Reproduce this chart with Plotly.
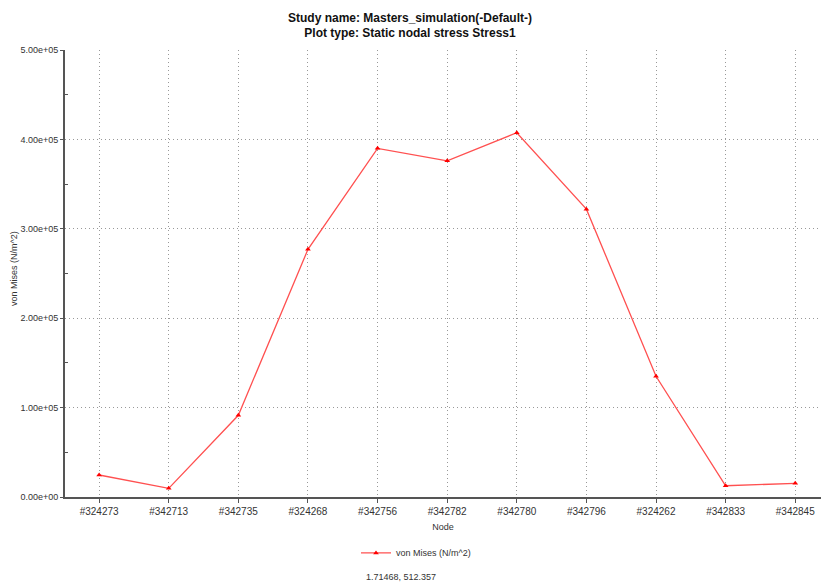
import plotly.graph_objects as go

nodes = ["#324273", "#342713", "#342735", "#324268", "#342756", "#342782",
         "#342780", "#342796", "#324262", "#342833", "#342845"]
von_mises = [24600, 9700, 91400, 277000, 390000, 376000, 407500, 322000, 135000, 12600, 15300]
y_tickvals = [0, 100000, 200000, 300000, 400000, 500000]
y_ticktext = ["0.00e+00", "1.00e+05", "2.00e+05", "3.00e+05", "4.00e+05", "5.00e+05"]

font = "Liberation Sans, Arial, sans-serif"
fig = go.Figure()
fig.add_trace(go.Scatter(
    x=list(range(len(nodes))), y=von_mises, mode="lines+markers",
    name="von Mises (N/m^2)",
    line=dict(color="#ff5050", width=1.3),
    marker=dict(symbol="triangle-up", size=5, color="#ff0000"),
))
fig.update_layout(
    width=821, height=588,
    margin=dict(l=65, r=0, t=50, b=91, autoexpand=False),
    paper_bgcolor="white", plot_bgcolor="white",
    font=dict(family=font, size=10, color="#333333"),
    title=dict(text="<b>Study name: Masters_simulation(-Default-)<br>Plot type: Static nodal stress Stress1</b>",
               x=(410 - 65) / 756, xref="paper", xanchor="center", y=0.963, yanchor="top",
               font=dict(family=font, size=12, color="#111111")),
    showlegend=True,
    legend=dict(orientation="h", x=(356 - 65) / 756, xanchor="left", y=-0.125, yanchor="middle",
                font=dict(size=9, color="#333333"), bgcolor="rgba(0,0,0,0)"),
    xaxis=dict(
        range=[-0.49, 10.37], tickmode="array", tickvals=list(range(len(nodes))),
        ticktext=nodes, showgrid=True, gridcolor="#999999", griddash="1px,3px", gridwidth=1.3,
        showline=True, linecolor="#555555", linewidth=2, ticks="outside", ticklen=4,
        tickcolor="#555555", zeroline=False, automargin=False,
        title=dict(text="Node", font=dict(size=9), standoff=8),
        tickfont=dict(size=10, color="#333333"),
    ),
    yaxis=dict(
        range=[0, 500000], tickmode="array", tickvals=y_tickvals, ticktext=y_ticktext,
        showgrid=True, gridcolor="#999999", griddash="1px,3px", gridwidth=1.3,
        showline=True, linecolor="#555555", linewidth=2, ticks="outside", ticklen=3,
        tickcolor="#555555", zeroline=False, automargin=False,
        minor=dict(tickvals=[50000, 150000, 250000, 350000, 450000], ticks="inside",
                   ticklen=3, tickcolor="#555555", showgrid=False),
        tickfont=dict(size=9, color="#333333"),
    ),
)
fig.add_annotation(text="von Mises (N/m^2)", xref="paper", yref="paper",
                   x=(14 - 65) / 756, y=(497 - 269) / 447, xanchor="center", yanchor="middle",
                   textangle=-90, showarrow=False, font=dict(size=9, color="#333333"))
fig.add_annotation(text="1.71468, 512.357", xref="paper", yref="paper",
                   x=(401 - 65) / 756, y=-0.18, xanchor="center", yanchor="middle",
                   showarrow=False, font=dict(size=9, color="#333333"))
fig.write_html("out.html", config={"displayModeBar": False},
               post_script="document.body.style.margin='0';document.body.style.overflow='hidden';")
